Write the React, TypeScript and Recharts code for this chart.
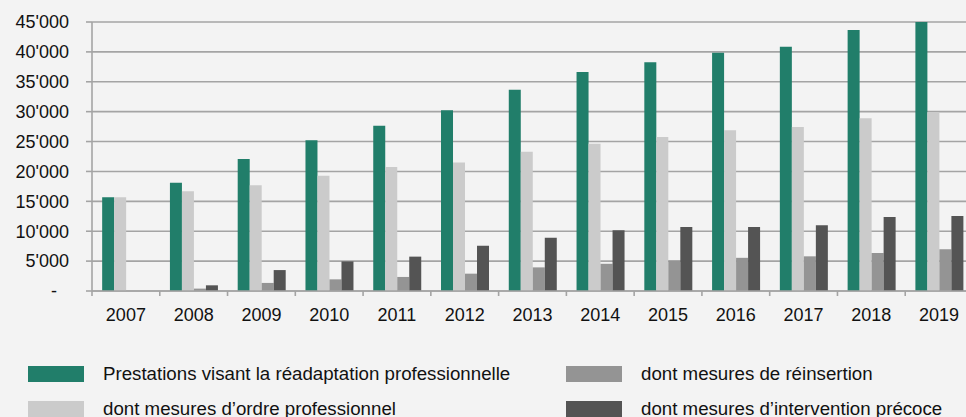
import { BarChart, Bar, XAxis, YAxis, CartesianGrid } from "recharts";

const years = ["2007", "2008", "2009", "2010", "2011", "2012", "2013", "2014", "2015", "2016", "2017", "2018", "2019"];
const readaptation = [15700, 18100, 22100, 25200, 27650, 30250, 33650, 36650, 38250, 39850, 40850, 43650, 45300];
const ordrePro = [15700, 16700, 17700, 19300, 20750, 21500, 23300, 24650, 25750, 26900, 27450, 28900, 29950];
const reinsertion = [null, 400, 1350, 1950, 2350, 2900, 3950, 4550, 5100, 5550, 5800, 6350, 7000];
const precoce = [null, 950, 3500, 4950, 5750, 7550, 8900, 10150, 10700, 10700, 11000, 12400, 12550];
const yTicks = [0, 5000, 10000, 15000, 20000, 25000, 30000, 35000, 40000, 45000];

const series = [
  { key: "readaptation", name: "Prestations visant la réadaptation professionnelle", color: "#217e6a" },
  { key: "ordrePro", name: "dont mesures d’ordre professionnel", color: "#cbcbcb" },
  { key: "reinsertion", name: "dont mesures de réinsertion", color: "#949494" },
  { key: "precoce", name: "dont mesures d’intervention précoce", color: "#545454" },
];

const data = years.map((year, i) => ({
  year,
  readaptation: readaptation[i],
  ordrePro: ordrePro[i],
  reinsertion: reinsertion[i],
  precoce: precoce[i],
}));

const font = "'Liberation Sans', Arial, sans-serif";
const gridColor = "#a4a4a4";

const chartW = 980;
const margin = { top: 22, right: 7, left: 0, bottom: 86 };
const yAxisW = 92;
const band = (chartW - margin.left - margin.right - yAxisW) / years.length;

const fmt = (v: number) => String(v).replace(/\B(?=(\d{3})+(?!\d))/g, "'");

function YTick(props: any) {
  const { x, y, payload } = props;
  const zero = payload.value === 0;
  return (
    <text x={zero ? x - 12 : x} y={y} dy="0.35em" textAnchor="end" fill="#111" fontSize={18} fontFamily={font}>
      {zero ? "-" : fmt(payload.value)}
    </text>
  );
}

// Excel-style: tick marks sit between the categories, labels in the middle
function XTick(props: any) {
  const { x, y, payload, index } = props;
  const axisY = y - 17;
  const left = x - band / 2;
  return (
    <g>
      <line x1={left} x2={left} y1={axisY} y2={axisY + 5} stroke={gridColor} strokeWidth={1.6} />
      {index === years.length - 1 && (
        <line x1={left + band} x2={left + band} y1={axisY} y2={axisY + 5} stroke={gridColor} strokeWidth={1.6} />
      )}
      <text x={x} y={y} dy="0.71em" textAnchor="middle" fill="#111" fontSize={18} fontFamily={font}>
        {payload.value}
      </text>
    </g>
  );
}

// legend order follows the reference: two columns, filled row by row
const legendOrder = [0, 2, 1, 3];

export default function App() {
  return (
    <div style={{ position: "absolute", left: 0, top: 0, width: 966, height: 417, overflow: "hidden", background: "#f3f3f3" }}>
      <BarChart width={chartW} height={417} data={data} margin={margin} barCategoryGap="15%" barGap={0}>
        <CartesianGrid vertical={false} stroke={gridColor} strokeWidth={1.6} />
        <XAxis
          dataKey="year"
          height={40}
          axisLine={{ stroke: gridColor, strokeWidth: 1.6 }}
          tickLine={false}
          tickSize={0}
          tickMargin={17}
          tick={<XTick />}
          interval={0}
        />
        <YAxis
          width={yAxisW}
          domain={[0, 45000]}
          ticks={yTicks}
          allowDataOverflow
          axisLine={{ stroke: gridColor, strokeWidth: 1.6 }}
          tickLine={{ stroke: gridColor, strokeWidth: 1.6 }}
          tickSize={6}
          tickMargin={17}
          tick={<YTick />}
        />
        {series.map((s) => (
          <Bar key={s.key} dataKey={s.key} name={s.name} fill={s.color} isAnimationActive={false} />
        ))}
      </BarChart>
      <div
        style={{
          position: "absolute",
          left: 28,
          top: 366,
          display: "grid",
          gridTemplateColumns: "538px 400px",
          rowGap: 19,
          fontFamily: font,
          fontSize: 18.7,
          color: "#111",
        }}
      >
        {legendOrder.map((i) => (
          <div key={series[i].key} style={{ display: "flex", alignItems: "center", height: 16 }}>
            <span style={{ width: 56, height: 16, background: series[i].color, marginRight: 19, flexShrink: 0 }} />
            <span style={{ whiteSpace: "nowrap" }}>{series[i].name}</span>
          </div>
        ))}
      </div>
    </div>
  );
}
